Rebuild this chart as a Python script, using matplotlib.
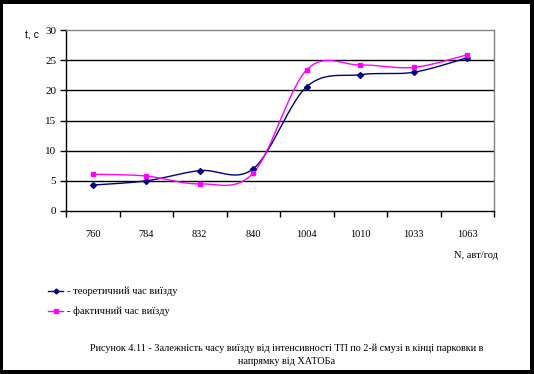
import matplotlib
matplotlib.use("Agg")
import matplotlib.pyplot as plt
from matplotlib.patches import Rectangle
import numpy as np

categories = ["760", "784", "832", "840", "1004", "1010", "1033", "1063"]
theoretical = [4.3, 5.0, 6.7, 7.0, 20.6, 22.6, 23.0, 25.4]
actual = [6.1, 5.8, 4.5, 6.3, 23.4, 24.2, 23.8, 25.9]
yticks = [0, 5, 10, 15, 20, 25, 30]

W, H = 534, 374
fig = plt.figure(figsize=(W / 100, H / 100), dpi=100)
fig.patch.set_facecolor("white")

def fx(px):
    return px / W

def fy(py):
    return 1 - py / H

ax = fig.add_axes([fx(66), fy(211), fx(494) - fx(66), fy(30) - fy(211)])


def smooth(xs, ys, n=30):
    xs = np.asarray(xs, float)
    ys = np.asarray(ys, float)
    pts = np.column_stack([xs, ys])
    out = []
    m = len(pts)
    for i in range(m - 1):
        p0 = pts[i - 1] if i > 0 else pts[i]
        p1 = pts[i]
        p2 = pts[i + 1]
        p3 = pts[i + 2] if i + 2 < m else pts[i + 1]
        c1 = p1 + (p2 - p0) / 6.0
        c2 = p2 - (p3 - p1) / 6.0
        t = np.linspace(0, 1, n)[:, None]
        seg = ((1 - t) ** 3) * p1 + 3 * ((1 - t) ** 2) * t * c1 + 3 * (1 - t) * t ** 2 * c2 + t ** 3 * p2
        if i > 0:
            seg = seg[1:]
        out.append(seg)
    c = np.vstack(out)
    return c[:, 0], c[:, 1]

xpos = np.arange(len(categories))

# gridlines
for v in yticks[1:-1]:
    ax.axhline(v, color="black", lw=1.0, zorder=1)

sx, sy = smooth(xpos, theoretical)
ax.plot(sx, sy, color="#000080", lw=1.0, zorder=3)
ax.plot(xpos, theoretical, ls="none", marker="D", ms=3.0, color="#000080", zorder=4)

sx, sy = smooth(xpos, actual)
ax.plot(sx, sy, color="#FF00FF", lw=1.0, zorder=3)
ax.plot(xpos, actual, ls="none", marker="s", ms=3.4, color="#FF00FF", zorder=4)

ax.set_xlim(-0.5, len(categories) - 0.5)
ax.set_ylim(0, 30)

for s in ["left", "bottom"]:
    ax.spines[s].set_color("black")
    ax.spines[s].set_linewidth(1.0)
for s in ["top", "right"]:
    ax.spines[s].set_color("#808080")
    ax.spines[s].set_linewidth(1.0)

ax.set_xticks(np.arange(-0.5, len(categories), 1.0))
ax.set_xticklabels([])
ax.set_xticks(xpos, minor=True)
ax.set_xticklabels(categories, minor=True, fontfamily="Liberation Serif", fontsize=7.5)
ax.tick_params(axis="x", which="major", direction="out", length=4, width=1, color="black")
ax.tick_params(axis="x", which="minor", length=0, pad=14)

ax.set_yticks(yticks)
ax.set_yticklabels([str(v) for v in yticks], fontfamily="Liberation Serif", fontsize=8)
ax.tick_params(axis="y", direction="out", length=4, width=1, color="black", pad=3)

fig.text(fx(25), fy(36), "t, c", fontfamily="Liberation Sans", fontsize=7.5, va="center", ha="left")
fig.text(fx(498), fy(255), "N, авт/год", fontfamily="Liberation Serif", fontsize=7.5, va="center", ha="right")

# legend
fig.add_artist(plt.Line2D([fx(48), fx(63)], [fy(291), fy(291)], color="#000080", lw=1.0,
                          transform=fig.transFigure))
fig.add_artist(plt.Line2D([fx(55.5)], [fy(291)], color="#000080", marker="D", ms=2.5,
                          ls="none", transform=fig.transFigure))
fig.text(fx(67), fy(291), "- теоретичний час виїзду", fontfamily="Liberation Serif", fontsize=7.5,
         va="center", ha="left")
fig.add_artist(plt.Line2D([fx(48), fx(63)], [fy(311), fy(311)], color="#FF00FF", lw=1.0,
                          transform=fig.transFigure))
fig.add_artist(plt.Line2D([fx(55.5)], [fy(311)], color="#FF00FF", marker="s", ms=3,
                          ls="none", transform=fig.transFigure))
fig.text(fx(67), fy(311), "- фактичний час виїзду", fontfamily="Liberation Serif", fontsize=7.5,
         va="center", ha="left")

# caption
fig.text(fx(287), fy(348), "Рисунок 4.11 - Залежність часу виїзду від інтенсивності ТП по 2-й смузі в кінці парковки в",
         fontfamily="Liberation Serif", fontsize=7.3, va="center", ha="center")
fig.text(fx(287), fy(362), "напрямку від ХАТОБа",
         fontfamily="Liberation Serif", fontsize=7.3, va="center", ha="center")

# black frame
for (x0, y0, w, h) in [(0, 0, W, 4), (0, 0, 3, H), (W - 4, 0, 4, H), (0, H - 4, W, 4)]:
    fig.add_artist(Rectangle((fx(x0), fy(y0 + h)), w / W, h / H, facecolor="black",
                             edgecolor="none", transform=fig.transFigure))

fig.savefig("out.png", dpi=100, facecolor="white")
